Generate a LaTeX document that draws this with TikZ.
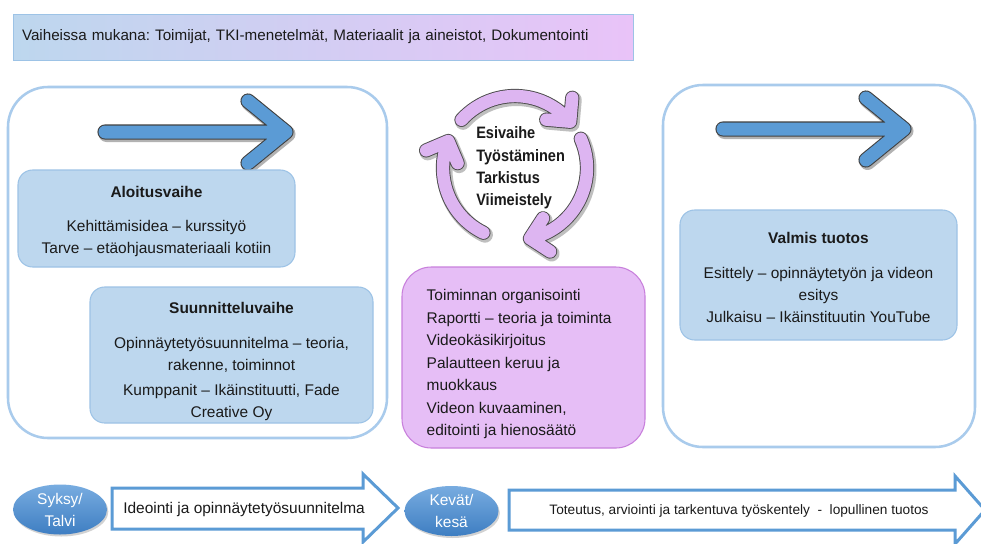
\documentclass[tikz,border=0pt]{standalone}
\usepackage{fontspec}
\setmainfont{Liberation Sans}
\newfontfamily\cyclebold[FakeStretch=0.88]{Liberation Sans Bold}
\usetikzlibrary{shadows,shapes.geometric}
\frenchspacing
\definecolor{bxfill}{HTML}{BDD7EE}
\definecolor{bxdraw}{HTML}{9DC3E6}
\definecolor{bigdraw}{HTML}{A9CBEC}
\definecolor{arrblue}{HTML}{5B9BD5}
\definecolor{pinkfill}{HTML}{E6BEF6}
\definecolor{pinkdraw}{HTML}{C880DC}
\definecolor{cycfill}{HTML}{DDB5F1}
\definecolor{bannerL}{HTML}{BDD7EE}
\definecolor{bannerR}{HTML}{E9C3F8}
\definecolor{ellTop}{HTML}{78ACE0}
\definecolor{ellBot}{HTML}{3E7EC2}
\definecolor{txt}{HTML}{1A1A1A}
\tikzset{
  bodyfont/.style={font=\fontsize{11.6pt}{16.5pt}\selectfont, text=txt},
  bigbox/.style={draw=bigdraw, line width=1.9pt, rounded corners=30pt},
  phasebox/.style={draw=bxdraw, fill=bxfill, line width=0.8pt, rounded corners=11pt, inner sep=0pt},
  boxtext/.style={bodyfont, align=center, inner sep=0pt},
  pinkbox/.style={draw=pinkdraw, fill=pinkfill, line width=0.8pt, rounded corners=22pt, inner sep=0pt},
  pinktext/.style={font=\fontsize{11.6pt}{16.9pt}\selectfont, text=txt, align=left, inner sep=0pt},
  season/.style={ellipse, minimum width=70.5pt, minimum height=37.5pt, inner sep=0pt, top color=ellTop, bottom color=ellBot, draw=none, drop shadow={opacity=0.35, shadow xshift=1pt, shadow yshift=-1.5pt}, text=white, align=center, font=\fontsize{11.6pt}{16.5pt}\selectfont},
  blockarr/.style={draw=arrblue, line width=2.25pt, fill=white, line join=miter},
  arrshadow/.style={draw=black!30, line width=12pt, line cap=round, line join=round},
  arrmain/.style={draw=black!75, line width=0.8pt, double=arrblue, double distance=9.75pt, line cap=round, line join=round},
  cycshadow/.style={draw=black!25, line width=12pt, line cap=round, line join=round},
  cycmain/.style={draw=black!70, line width=0.7pt, double=cycfill, double distance=9.3pt, line cap=round, line join=round}
}
\newcommand\BlueArrowAt[2]{%
  \begin{scope}[shift={(#1+1.5,#2-2)}]
    \draw[arrshadow] (0,0) -- (181,0) (143,31) -- (181,0) -- (143,-31);
  \end{scope}
  \begin{scope}[shift={(#1,#2)}]
    \draw[arrmain] (0,0) -- (181,0) (143,31) -- (181,0) -- (143,-31);
  \end{scope}}
\newcommand\CycArrowPart[2]{%
  \begin{scope}[shift={(516.5,-170)}]
    \draw[cycshadow] (#1:72) arc[start angle=#1, end angle=#2, radius=72] (#2:72) ++({#2+135}:24) -- (#2:72) -- ++({#2+45}:24);
  \end{scope}
  \begin{scope}[shift={(515,-168)}]
    \draw[cycmain] (#1:72) arc[start angle=#1, end angle=#2, radius=72] (#2:72) ++({#2+135}:24) -- (#2:72) -- ++({#2+45}:24);
  \end{scope}}
\begin{document}
\begin{tikzpicture}[x=0.75pt,y=0.75pt]
\useasboundingbox (0,0) rectangle (981,-543);
\fill[white] (0,0) rectangle (981,-543);

% top banner
\node (banner) [left color=bannerL, right color=bannerR, draw=bxdraw, line width=0.6pt,
  minimum width=465pt, minimum height=34.5pt, inner xsep=6.75pt, text width=451.5pt, align=left,
  font=\fontsize{11.4pt}{14pt}\selectfont, text=txt] at (323,-37)
  {Vaiheissa mukana: Toimijat, TKI-menetelmät, Materiaalit ja aineistot, Dokumentointi};

% big outline boxes
\draw[bigbox] (8,-87) rectangle (387,-438);
\draw[bigbox] (663,-85) rectangle (975,-447);

% blue arrows
\BlueArrowAt{105}{-132}
\BlueArrowAt{723}{-129}

% phase boxes
\node (aloitus) [phasebox, minimum width=207.75pt, minimum height=72.75pt] at (156.5,-218.5) {};
\node (aloitustext) [boxtext] at ([yshift=-2.5pt]aloitus.center)
  {\textbf{Aloitusvaihe}\\[9pt]Kehittämisidea – kurssityö\\Tarve – etäohjausmateriaali kotiin};
\node (suunnittelu) [phasebox, minimum width=212.25pt, minimum height=102pt] at (231.5,-355) {};
\node (suunnittelutext) [boxtext] at ([yshift=-5pt]suunnittelu.center)
  {\textbf{Suunnitteluvaihe}\\[9.75pt]Opinnäytetyösuunnitelma – teoria,\\rakenne, toiminnot\\[2pt]Kumppanit – Ikäinstituutti, Fade\\Creative Oy};
\node (valmis) [phasebox, minimum width=207.75pt, minimum height=97.5pt] at (818.5,-275) {};
\node (valmistext) [boxtext] at ([yshift=-2pt]valmis.center)
  {\textbf{Valmis tuotos}\\[9.75pt]Esittely – opinnäytetyön ja videon\\esitys\\Julkaisu – Ikäinstituutin YouTube};

% cycle
\CycArrowPart{138}{40}
\CycArrowPart{24}{-78}
\CycArrowPart{244}{158}
\node (cycle) [anchor=west, align=left, text=txt, inner sep=0pt,
  font=\cyclebold\fontsize{12.4pt}{16.7pt}\selectfont] at (476,-168)
  {Esivaihe\\Työstäminen\\Tarkistus\\Viimeistely};

% pink box
\node (toteutus) [pinkbox, minimum width=182.25pt, minimum height=135.75pt] at (523.5,-357.5) {};
\node (toteutustext) [pinktext, anchor=west] at ([xshift=18.75pt,yshift=-5pt]toteutus.west)
  {Toiminnan organisointi\\Raportti – teoria ja toiminta\\Videokäsikirjoitus\\Palautteen keruu ja\\muokkaus\\Videon kuvaaminen,\\editointi ja hienosäätö};

% bottom timeline
\draw[blockarr] (112,-488) -- (363,-488) -- (363,-474) -- (398,-508) -- (363,-542) -- (363,-529) -- (112,-529) -- cycle;
\draw[blockarr] (509,-490) -- (955,-490) -- (955,-476) -- (985,-510) -- (955,-544) -- (955,-530) -- (509,-530) -- cycle;
\node (syksy) [season] at (60,-509.5) {Syksy/\\Talvi};
\node (kevat) [season] at (451.5,-511) {Kevät/\\kesä};
\node (ideointi) [anchor=west, bodyfont, inner sep=0pt] at (123,-509) {Ideointi ja opinnäytetyösuunnitelma};
\node (toteutusteksti) [text=txt, font=\fontsize{10.25pt}{12pt}\selectfont, inner sep=0pt] at (739,-511)
  {Toteutus, arviointi ja tarkentuva työskentely~~-~~lopullinen tuotos};
\end{tikzpicture}
\end{document}
